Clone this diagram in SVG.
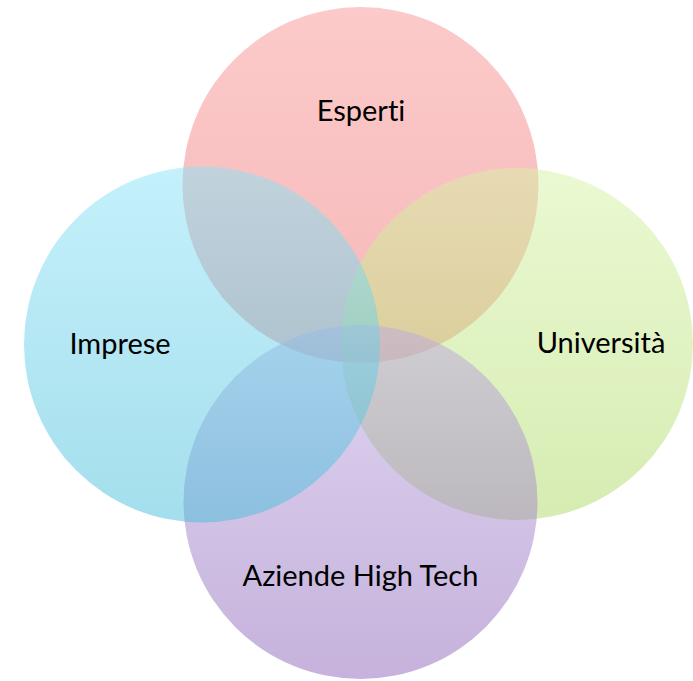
<svg xmlns="http://www.w3.org/2000/svg" width="693" height="681" viewBox="0 0 693 681">
<defs>
<linearGradient id="gRed" x1="0" y1="0" x2="0" y2="1">
<stop offset="0" stop-color="#F99595" stop-opacity="0.5"/>
<stop offset="1" stop-color="#ED7171" stop-opacity="0.5"/>
</linearGradient>
<linearGradient id="gGreen" x1="0" y1="0" x2="0" y2="1">
<stop offset="0" stop-color="#D5F3A5" stop-opacity="0.5"/>
<stop offset="1" stop-color="#ADD965" stop-opacity="0.5"/>
</linearGradient>
<linearGradient id="gPurple" x1="0" y1="0" x2="0" y2="1">
<stop offset="0" stop-color="#BDA9E1" stop-opacity="0.5"/>
<stop offset="1" stop-color="#8D65B9" stop-opacity="0.5"/>
</linearGradient>
<linearGradient id="gCyan" x1="0" y1="0" x2="0" y2="1">
<stop offset="0" stop-color="#89E3F7" stop-opacity="0.5"/>
<stop offset="1" stop-color="#49BDD9" stop-opacity="0.5"/>
</linearGradient>
</defs>
<style>
.lbl { font-family: Lato, "Open Sans", "Liberation Sans", sans-serif; font-size: 29px; fill: #000; text-anchor: middle; font-variant-ligatures: none; }
</style>
<rect width="693" height="681" fill="#FFFFFF"/>
<g id="esperti">
<circle cx="360.5" cy="185" r="178" fill="url(#gRed)"/>
<text class="lbl" x="361" y="121">Esperti</text>
</g>
<g id="universita">
<circle cx="517" cy="344" r="176" fill="url(#gGreen)"/>
<text class="lbl" x="601" y="353">Università</text>
</g>
<g id="aziende">
<circle cx="360.5" cy="502" r="177" fill="url(#gPurple)"/>
<text class="lbl" x="360.5" y="586">Aziende High Tech</text>
</g>
<g id="imprese">
<circle cx="202" cy="344.5" r="178" fill="url(#gCyan)"/>
<text class="lbl" x="120" y="354">Imprese</text>
</g>
<g id="connectors"/>
</svg>
